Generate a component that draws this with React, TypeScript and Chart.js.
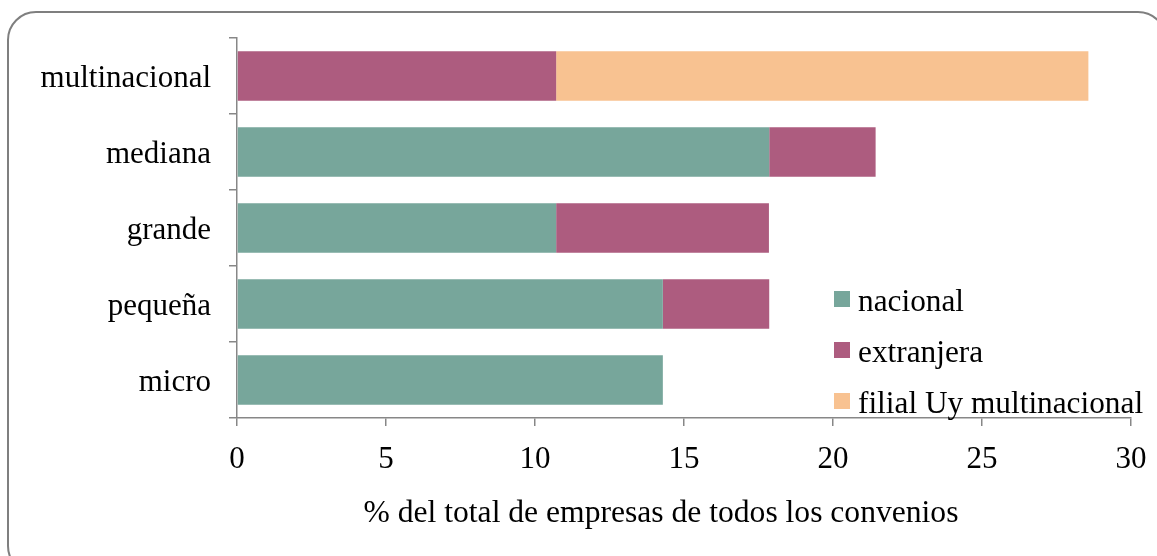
import React, { useEffect, useRef } from "react";
import { Chart, registerables } from "chart.js";

Chart.register(...registerables);

const categories = ["multinacional", "mediana", "grande", "pequeña", "micro"];
const nacional = [0, 17.86, 10.71, 14.29, 14.29];
const extranjera = [10.71, 3.57, 7.14, 3.57, 0];
const filial = [17.86, 0, 0, 0, 0];
const seriesNames = ["nacional", "extranjera", "filial Uy multinacional"];
const seriesColors = ["#77A69B", "#AD5C7F", "#F8C291"];
const axisTitle = "% del total de empresas de todos los convenios";

const FONT = "'Liberation Serif', 'Times New Roman', serif";
const GRAY = "#878787";

const framePlugin = {
  id: "frame",
  beforeDraw(chart: any) {
    const ctx = chart.ctx;
    ctx.save();
    ctx.strokeStyle = "#7f7f7f";
    ctx.lineWidth = 2;
    ctx.beginPath();
    ctx.roundRect(8, 12, 1158, 562, 28);
    ctx.stroke();
    ctx.restore();
  },
};

const legendTitlePlugin = {
  id: "legendTitle",
  afterDraw(chart: any) {
    const ctx = chart.ctx;
    const area = chart.chartArea;
    const xs = chart.scales.x;
    ctx.save();
    ctx.font = `31.3px ${FONT}`;
    ctx.fillStyle = "#000";
    ctx.textBaseline = "alphabetic";
    const boxX = xs.getPixelForValue(20) + 1;
    const firstTop = area.top + 253;
    chart.data.datasets.forEach((ds: any, i: number) => {
      const top = firstTop + i * 51;
      ctx.fillStyle = ds.backgroundColor;
      ctx.fillRect(boxX, top, 16, 16);
      ctx.fillStyle = "#000";
      ctx.textAlign = "left";
      ctx.fillText(ds.label, boxX + 24, top + 20);
    });
    // axis title
    ctx.font = `31.6px ${FONT}`;
    ctx.textAlign = "center";
    ctx.fillText(axisTitle, (area.left + area.right) / 2 - 23, area.bottom + 104);
    ctx.restore();
  },
};

export default function App() {
  const ref = useRef<HTMLCanvasElement | null>(null);
  useEffect(() => {
    if (!ref.current) return;
    const chart = new Chart(ref.current, {
      type: "bar",
      data: {
        labels: categories,
        datasets: [
          { label: seriesNames[0], data: nacional, backgroundColor: seriesColors[0] },
          { label: seriesNames[1], data: extranjera, backgroundColor: seriesColors[1] },
          { label: seriesNames[2], data: filial, backgroundColor: seriesColors[2] },
        ],
      },
      options: {
        indexAxis: "y",
        animation: false,
        responsive: false,
        maintainAspectRatio: false,
        layout: { padding: { top: 38, right: 26, left: 0, bottom: 0 } },
        datasets: { bar: { categoryPercentage: 1, barPercentage: 0.65 } },
        plugins: { legend: { display: false }, tooltip: { enabled: false }, title: { display: false } },
        scales: {
          x: {
            stacked: true,
            min: 0,
            max: 30,
            ticks: { stepSize: 5, color: "#000", font: { family: FONT, size: 31 }, padding: 15, maxRotation: 0 },
            grid: { drawOnChartArea: false, tickLength: 8, color: GRAY, lineWidth: 1.5 },
            border: { color: GRAY, width: 1.5 },
            afterFit: (s: any) => { s.height = 138; s.paddingLeft = 0; s.paddingRight = 0; },
          },
          y: {
            stacked: true,
            ticks: { color: "#000", font: { family: FONT, size: 31 }, padding: 18, labelOffset: 3 },
            grid: { drawOnChartArea: false, tickLength: 8, color: GRAY, lineWidth: 1.5, offset: true },
            border: { color: GRAY, width: 1.5 },
            afterFit: (s: any) => { s.width = 237; s.paddingTop = 0; s.paddingBottom = 0; },
          },
        },
      } as any,
      plugins: [framePlugin, legendTitlePlugin],
    });
    return () => chart.destroy();
  }, []);
  return (
    <div style={{ position: "fixed", left: 0, top: 0, width: 1157, height: 556, overflow: "hidden", background: "#fff" }}>
      <canvas ref={ref} width={1157} height={556} style={{ display: "block", width: 1157, height: 556 }} />
    </div>
  );
}
